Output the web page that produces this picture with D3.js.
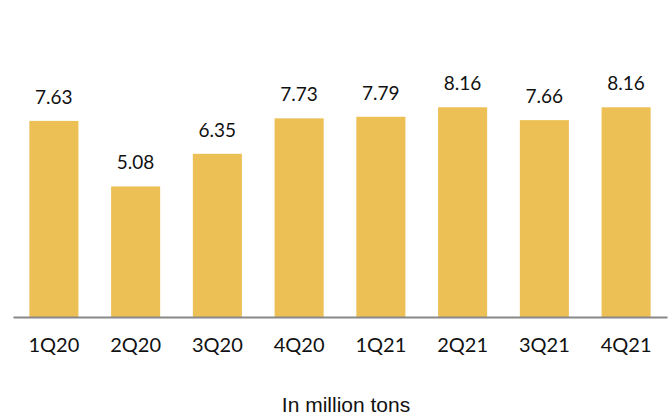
<!DOCTYPE html>
<html>
<head>
<meta charset="utf-8">
<script src="https://cdn.jsdelivr.net/npm/d3@7"></script>
<style>
  body { margin: 0; background: #fff; }
</style>
</head>
<body>
<div id="chart"></div>
<script>
// quarters and volumes (million tons)
const quarters = ["1Q20", "2Q20", "3Q20", "4Q20", "1Q21", "2Q21", "3Q21", "4Q21"];
const volumes = [7.63, 5.08, 6.35, 7.73, 7.79, 8.16, 7.66, 8.16];
const unitLabel = "In million tons";

const width = 670;
const height = 416;
const left = 13, right = 667, baseY = 317;

const svg = d3.select("#chart")
  .append("svg")
  .attr("width", width)
  .attr("height", height);

const x = d3.scaleBand()
  .domain(quarters)
  .range([left, right])
  .paddingInner(0.4)
  .paddingOuter(0.2);

const y = d3.scaleLinear()
  .domain([0, 10])
  .range([baseY, baseY - 257]);

const data = quarters.map((q, i) => ({ q: q, v: volumes[i] }));

// bars
svg.selectAll("rect.bar")
  .data(data)
  .enter()
  .append("rect")
  .attr("class", "bar")
  .attr("x", d => x(d.q))
  .attr("y", d => y(d.v))
  .attr("width", x.bandwidth())
  .attr("height", d => baseY - y(d.v))
  .attr("fill", "#EDC056");

// value labels
svg.selectAll("text.val")
  .data(data)
  .enter()
  .append("text")
  .attr("class", "val")
  .attr("x", d => x(d.q) + x.bandwidth() / 2)
  .attr("y", d => y(d.v) - 17)
  .attr("text-anchor", "middle")
  .attr("font-family", "Lato, 'Open Sans', sans-serif")
  .attr("font-size", "19px")
  .attr("fill", "#111")
  .text(d => d.v.toFixed(2));

// x axis
const xAxis = d3.axisBottom(x).tickSize(0).tickPadding(21);
const g = svg.append("g")
  .attr("transform", `translate(0, ${baseY})`)
  .call(xAxis);
g.select(".domain")
  .attr("stroke", "#888")
  .attr("stroke-width", 2);
g.selectAll("text")
  .attr("font-family", "Lato, 'Open Sans', sans-serif")
  .attr("font-size", "20px")
  .attr("fill", "#111");

// unit caption
svg.append("text")
  .attr("x", 346)
  .attr("y", 412)
  .attr("text-anchor", "middle")
  .attr("font-family", "'Liberation Sans', Arial, sans-serif")
  .attr("font-size", "21px")
  .attr("fill", "#111")
  .text(unitLabel);
</script>
</body>
</html>
